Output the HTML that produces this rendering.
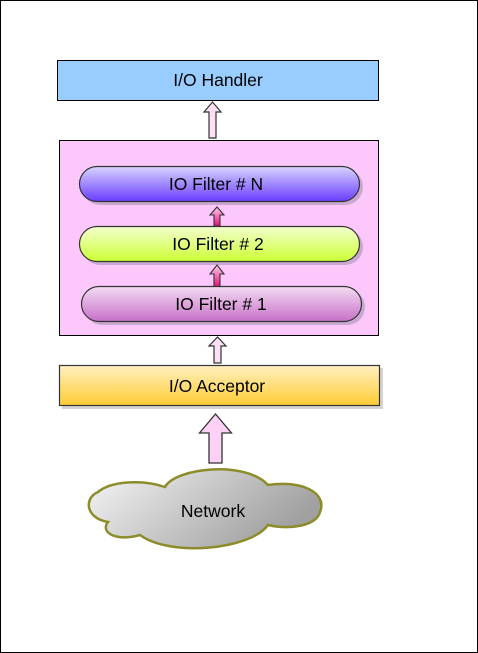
<!DOCTYPE html>
<html><head><meta charset="utf-8"><style>
html,body{margin:0;padding:0;background:#fff}
svg{display:block}
text{font-family:"Liberation Sans",sans-serif;font-size:17.5px;fill:#000;text-anchor:middle}
</style></head><body>
<svg width="478" height="653" viewBox="0 0 478 653" xmlns="http://www.w3.org/2000/svg">
<defs>
<linearGradient id="gN" x1="0" y1="0" x2="0" y2="1"><stop offset="0" stop-color="#d8d4ff"/><stop offset="1" stop-color="#6a3cff"/></linearGradient>
<linearGradient id="g2" x1="0" y1="0" x2="0" y2="1"><stop offset="0" stop-color="#f4ffd0"/><stop offset="1" stop-color="#ccff33"/></linearGradient>
<linearGradient id="g1" x1="0" y1="0" x2="0" y2="1"><stop offset="0" stop-color="#f2dcf2"/><stop offset="1" stop-color="#c870c8"/></linearGradient>
<linearGradient id="gA" x1="0" y1="0" x2="0" y2="1"><stop offset="0" stop-color="#fff0c0"/><stop offset="1" stop-color="#ffcc33"/></linearGradient>
<linearGradient id="gC" x1="0" y1="0" x2="1" y2="0.4"><stop offset="0" stop-color="#f6f6f6"/><stop offset="1" stop-color="#a0a0a0"/></linearGradient>
<linearGradient id="gP" x1="0" y1="0" x2="0" y2="1"><stop offset="0" stop-color="#ffccee"/><stop offset="1" stop-color="#e0107a"/></linearGradient>
</defs>
<rect x="0.5" y="0.5" width="477" height="652" fill="#fff" stroke="#000"/>
<rect x="57.5" y="60.5" width="321" height="40" fill="#99ccff" stroke="#000"/>
<text x="218" y="86">I/O Handler</text>
<path d="M209 138V112H204L212.5 102L221 112H216V138Z" fill="#fde0f6" stroke="#333" stroke-width="1.2"/>
<rect x="59.5" y="140.5" width="319" height="195" fill="#fcc8fc" stroke="#000"/>
<rect x="82" y="169" width="281" height="36" rx="18" fill="#c9a8d0"/>
<rect x="79.5" y="166.5" width="280" height="35" rx="17.5" fill="url(#gN)" stroke="#333" stroke-width="1.2"/>
<text x="216" y="190">IO Filter # N</text>
<path d="M214 226V215H210L217 207L224 215H220V226Z" fill="url(#gP)" stroke="#333" stroke-width="1.1"/>
<rect x="82" y="229" width="281" height="36" rx="18" fill="#c9a8d0"/>
<rect x="79.5" y="226.5" width="280" height="35" rx="17.5" fill="url(#g2)" stroke="#333" stroke-width="1.2"/>
<text x="218" y="250">IO Filter # 2</text>
<path d="M214 287V274H210L217 265L224 274H220V287Z" fill="url(#gP)" stroke="#333" stroke-width="1.1"/>
<rect x="84" y="289" width="281" height="36" rx="18" fill="#c9a8d0"/>
<rect x="81.5" y="286.5" width="280" height="35" rx="17.5" fill="url(#g1)" stroke="#333" stroke-width="1.2"/>
<text x="221" y="310">IO Filter # 1</text>
<path d="M214 363V346H209L217.5 337L226 346H221V363Z" fill="#fde0f6" stroke="#333" stroke-width="1.2"/>
<rect x="62" y="368" width="321" height="41" fill="#d4d4d4"/>
<rect x="59.5" y="365.5" width="320" height="40" fill="url(#gA)" stroke="#333" stroke-width="1.2"/>
<text x="217" y="392">I/O Acceptor</text>
<path d="M209 463V433H199.5L215.5 414L231.5 433H222V463Z" fill="#fdd0f6" stroke="#333" stroke-width="1.3"/>
<path d="M165 487C175 468 245 460 268 485C300 480 328 492 320 512C316 526 290 530 268 525C250 550 170 557 140 535C115 542 100 532 108 522C85 518 84 498 98 492C112 480 145 480 165 487Z" fill="url(#gC)" stroke="#8c8c2a" stroke-width="2.5"/>
<text x="213" y="517">Network</text>
</svg>
</body></html>
